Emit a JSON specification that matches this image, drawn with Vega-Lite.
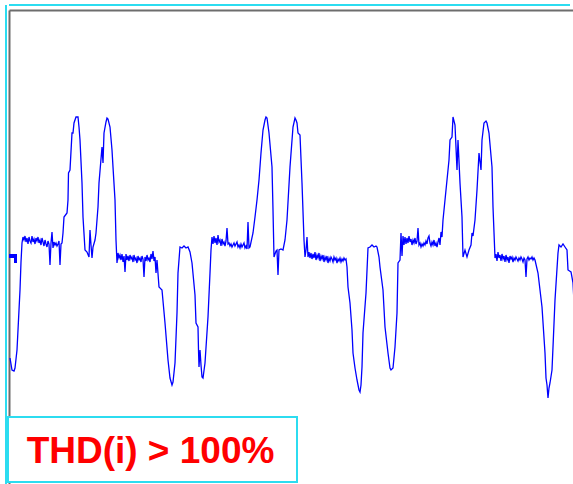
{
  "$schema": "https://vega.github.io/schema/vega-lite/v6.json",
  "width": 564,
  "height": 474,
  "autosize": "none",
  "padding": {"left": 9, "top": 10, "right": 0, "bottom": 0},
  "background": "white",
  "config": {
    "view": {"stroke": null},
    "axis": {"labels": false, "ticks": false, "grid": false, "title": null, "domainColor": "#6d6d6d", "domainWidth": 2}
  },
  "layer": [
    {
      "data": {"values": [{}]},
      "mark": {"type": "rule", "color": "#2cdcf0", "strokeWidth": 2, "xOffset": -3, "yOffset": -5},
      "encoding": {"x": {"datum": -1, "type": "quantitative"}}
    },
    {
      "data": {"values": [{}]},
      "mark": {"type": "rule", "color": "#2cdcf0", "strokeWidth": 2, "xOffset": -3, "yOffset": -5},
      "encoding": {"y": {"datum": 240, "type": "quantitative"}}
    },
    {
      "data": {"values": [
        {"n": -1, "n2": 7, "i": -4, "i2": -8},
        {"n": 4, "n2": 7, "i": -4, "i2": -13}
      ]},
      "mark": {"type": "rect", "color": "#0000ff"},
      "encoding": {
        "x": {"field": "n", "type": "quantitative"},
        "x2": {"field": "n2"},
        "y": {"field": "i", "type": "quantitative"},
        "y2": {"field": "i2"}
      }
    },
    {
      "data": {"values": [
        {"n":0,"i":-108},{"n":2,"i":-120},{"n":4,"i":-121},{"n":5,"i":-118},{"n":7,"i":-100},{"n":8,"i":-80},{"n":10,"i":-40},{"n":11,"i":-12},{"n":12,"i":7},
        {"n":13,"i":13},{"n":14,"i":10},{"n":15,"i":14},{"n":16,"i":8},{"n":17,"i":12},{"n":18,"i":6},{"n":19,"i":13},{"n":20,"i":9},{"n":21,"i":7},{"n":22,"i":14},
        {"n":23,"i":8},{"n":24,"i":11},{"n":25,"i":6},{"n":26,"i":12},{"n":27,"i":9},{"n":28,"i":13},{"n":29,"i":7},{"n":30,"i":10},{"n":31,"i":5},{"n":32,"i":12},
        {"n":33,"i":8},{"n":34,"i":4},{"n":35,"i":10},{"n":36,"i":6},{"n":37,"i":3},{"n":38,"i":9},{"n":39,"i":6},{"n":40,"i":-15},{"n":41,"i":7},{"n":42,"i":18},
        {"n":43,"i":2},{"n":44,"i":8},{"n":45,"i":5},{"n":46,"i":7},{"n":47,"i":4},{"n":48,"i":6},{"n":49,"i":9},{"n":50,"i":-15},{"n":51,"i":6},{"n":52,"i":7},
        {"n":53,"i":17},{"n":54,"i":33},{"n":57,"i":37},{"n":58,"i":50},{"n":58.5,"i":77},{"n":60,"i":80},{"n":62,"i":117},{"n":63,"i":117},{"n":64,"i":127},{"n":66,"i":133},
        {"n":68,"i":133},{"n":69,"i":123},{"n":70,"i":110},{"n":72,"i":67},{"n":73,"i":33},{"n":75,"i":0},{"n":77,"i":-2},{"n":79,"i":-7},{"n":80,"i":20},{"n":81,"i":5},
        {"n":82,"i":-8},{"n":83,"i":3},{"n":85,"i":10},{"n":86,"i":17},{"n":88,"i":43},{"n":89,"i":67},{"n":92,"i":103},{"n":93,"i":87},{"n":94,"i":117},{"n":96,"i":128},
        {"n":97,"i":132},{"n":98,"i":131},{"n":100,"i":123},{"n":102,"i":100},{"n":103,"i":83},{"n":105,"i":50},{"n":106,"i":10},{"n":107,"i":-13},
        {"n":108,"i":-3},{"n":109,"i":-8},{"n":110,"i":-5},{"n":111,"i":-10},{"n":112,"i":-4},{"n":113,"i":-12},{"n":114,"i":-6},{"n":115,"i":-22},{"n":116,"i":-4},{"n":117,"i":-10},
        {"n":118,"i":-6},{"n":119,"i":-11},{"n":120,"i":-5},{"n":121,"i":-9},{"n":122,"i":-7},{"n":123,"i":-12},{"n":124,"i":-5},{"n":125,"i":-10},{"n":126,"i":-8},{"n":127,"i":-13},
        {"n":128,"i":-6},{"n":129,"i":-10},{"n":130,"i":-8},{"n":131,"i":-12},{"n":132,"i":-6},{"n":133,"i":-9},{"n":134,"i":-27},{"n":135,"i":-7},{"n":136,"i":-11},{"n":137,"i":-5},
        {"n":138,"i":-10},{"n":139,"i":-8},{"n":140,"i":-12},{"n":141,"i":-4},{"n":142,"i":-9},{"n":143,"i":-1},{"n":144,"i":-11},{"n":145,"i":-7},{"n":146,"i":-23},{"n":147,"i":-10},
        {"n":149,"i":-37},{"n":152,"i":-40},{"n":155,"i":-73},{"n":158,"i":-110},{"n":160,"i":-128},{"n":162,"i":-135},{"n":163,"i":-132},{"n":165,"i":-113},{"n":167,"i":-63},{"n":168,"i":-23},
        {"n":170,"i":3},{"n":172,"i":2},{"n":174,"i":4},{"n":176,"i":2},{"n":178,"i":3},{"n":180,"i":-2},{"n":182,"i":-13},{"n":185,"i":-45},{"n":186,"i":-73},{"n":188,"i":-77},
        {"n":188.5,"i":-100},{"n":189,"i":-117},{"n":190,"i":-100},{"n":191,"i":-115},{"n":192,"i":-127},{"n":193,"i":-128},{"n":195,"i":-113},{"n":198,"i":-67},{"n":200,"i":-23},{"n":201,"i":0},
        {"n":202,"i":13},{"n":203,"i":6},{"n":204,"i":14},{"n":205,"i":7},{"n":206,"i":12},{"n":207,"i":5},{"n":208,"i":15},{"n":209,"i":8},{"n":210,"i":10},{"n":211,"i":4},
        {"n":212,"i":11},{"n":213,"i":6},{"n":214,"i":8},{"n":215,"i":4},{"n":216,"i":9},{"n":217,"i":22},{"n":218,"i":6},{"n":219,"i":7},{"n":220,"i":4},{"n":221,"i":6},
        {"n":222,"i":3},{"n":223,"i":5},{"n":224,"i":7},{"n":225,"i":4},{"n":226,"i":6},{"n":227,"i":8},{"n":228,"i":3},{"n":229,"i":5},{"n":230,"i":2},{"n":231,"i":6},
        {"n":232,"i":3},{"n":233,"i":5},{"n":234,"i":7},{"n":235,"i":2},{"n":236,"i":4},{"n":237,"i":1},{"n":238,"i":28},{"n":239,"i":2},{"n":240,"i":3},
        {"n":243,"i":17},{"n":245,"i":33},{"n":247,"i":50},{"n":249,"i":70},{"n":251,"i":97},{"n":253,"i":120},{"n":255,"i":130},{"n":256,"i":133},{"n":257,"i":132},{"n":259,"i":117},
        {"n":262,"i":83},{"n":263,"i":40},{"n":264,"i":-7},{"n":266,"i":-1},{"n":267,"i":0},{"n":268,"i":-25},{"n":269,"i":0},{"n":271,"i":1},{"n":273,"i":0},{"n":275,"i":10},
        {"n":277,"i":30},{"n":280,"i":83},{"n":283,"i":123},{"n":285,"i":132},{"n":286,"i":130},{"n":287,"i":127},{"n":288,"i":117},{"n":290,"i":115},{"n":292,"i":67},{"n":294,"i":10},{"n":295,"i":-7},
        {"n":296,"i":0},{"n":297,"i":13},{"n":298,"i":-7},{"n":299,"i":-2},{"n":300,"i":-8},{"n":301,"i":-3},{"n":302,"i":-9},{"n":303,"i":-4},{"n":304,"i":-8},{"n":305,"i":-2},
        {"n":306,"i":-10},{"n":307,"i":-5},{"n":308,"i":-8},{"n":309,"i":-3},{"n":310,"i":-11},{"n":311,"i":-6},{"n":312,"i":-9},{"n":313,"i":-5},{"n":314,"i":-12},{"n":315,"i":-7},
        {"n":316,"i":-10},{"n":317,"i":-6},{"n":318,"i":-13},{"n":319,"i":-8},{"n":320,"i":-11},{"n":321,"i":-7},{"n":322,"i":-9},{"n":323,"i":-12},{"n":324,"i":-7},{"n":325,"i":-10},
        {"n":326,"i":-8},{"n":327,"i":-13},{"n":328,"i":-9},{"n":329,"i":-11},{"n":330,"i":-8},{"n":331,"i":-12},{"n":332,"i":-9},{"n":333,"i":-11},{"n":334,"i":-8},{"n":335,"i":-10},
        {"n":336,"i":-9},{"n":337,"i":-17},
        {"n":338,"i":-37},{"n":340,"i":-53},{"n":342,"i":-80},{"n":343,"i":-103},{"n":345,"i":-118},{"n":347,"i":-130},{"n":349,"i":-140},{"n":350,"i":-142},{"n":351,"i":-135},{"n":352,"i":-117},
        {"n":353,"i":-83},{"n":356,"i":-43},{"n":358,"i":2},{"n":360,"i":3},{"n":362,"i":5},{"n":364,"i":3},{"n":366,"i":4},{"n":367,"i":3},{"n":369,"i":-7},{"n":370,"i":-17},
        {"n":373,"i":-40},{"n":375,"i":-77},{"n":378,"i":-103},{"n":380,"i":-118},{"n":381,"i":-120},{"n":383,"i":-118},{"n":385,"i":-97},{"n":387,"i":-63},{"n":388,"i":-13},
        {"n":390,"i":-10},{"n":391,"i":17},{"n":392,"i":-6},{"n":393,"i":14},{"n":394,"i":5},{"n":395,"i":13},{"n":396,"i":6},{"n":397,"i":12},{"n":398,"i":7},{"n":399,"i":14},
        {"n":400,"i":8},{"n":401,"i":11},{"n":402,"i":5},{"n":403,"i":10},{"n":404,"i":7},{"n":405,"i":12},{"n":406,"i":6},{"n":407,"i":9},{"n":408,"i":22},{"n":409,"i":5},
        {"n":410,"i":7},{"n":411,"i":3},{"n":412,"i":6},{"n":413,"i":4},{"n":414,"i":7},{"n":415,"i":5},{"n":416,"i":9},{"n":417,"i":6},{"n":418,"i":12},{"n":419,"i":14},
        {"n":420,"i":7},{"n":421,"i":4},{"n":422,"i":8},{"n":423,"i":5},{"n":424,"i":10},{"n":425,"i":4},{"n":426,"i":7},{"n":427,"i":3},{"n":428,"i":8},{"n":429,"i":12},
        {"n":430,"i":5},{"n":431,"i":18},{"n":432,"i":13},
        {"n":433,"i":30},{"n":436,"i":60},{"n":439,"i":90},{"n":440,"i":110},{"n":442,"i":113},{"n":442.5,"i":123},{"n":443,"i":133},{"n":445,"i":125},{"n":447,"i":80},{"n":448,"i":110},
        {"n":450,"i":67},{"n":452,"i":33},{"n":453,"i":-7},{"n":455,"i":0},{"n":457,"i":-7},{"n":459,"i":0},{"n":461,"i":5},{"n":462,"i":17},{"n":463,"i":14},{"n":465,"i":30},
        {"n":467,"i":60},{"n":469,"i":97},{"n":471,"i":80},{"n":472,"i":110},{"n":474,"i":127},{"n":476,"i":129},{"n":477,"i":127},{"n":479,"i":117},{"n":482,"i":83},{"n":483,"i":43},{"n":485,"i":-8},
        {"n":486,"i":-4},{"n":487,"i":-11},{"n":488,"i":-2},{"n":489,"i":-8},{"n":490,"i":-5},{"n":491,"i":-11},{"n":492,"i":-4},{"n":493,"i":-9},{"n":494,"i":-6},{"n":495,"i":-12},
        {"n":496,"i":-5},{"n":497,"i":-10},{"n":498,"i":-7},{"n":499,"i":-13},{"n":500,"i":-6},{"n":501,"i":-9},{"n":502,"i":-7},{"n":503,"i":-12},{"n":504,"i":-8},{"n":505,"i":-10},
        {"n":506,"i":-7},{"n":507,"i":-9},{"n":508,"i":-11},{"n":509,"i":-8},{"n":510,"i":-10},{"n":511,"i":-7},{"n":512,"i":-9},{"n":513,"i":-12},{"n":514,"i":-8},{"n":515,"i":-10},
        {"n":516,"i":-27},{"n":517,"i":-9},{"n":518,"i":-7},{"n":519,"i":-10},{"n":520,"i":-8},{"n":521,"i":-9},{"n":522,"i":-7},{"n":523,"i":-10},{"n":524,"i":-8},{"n":525,"i":-10},
        {"n":528,"i":-23},{"n":532,"i":-57},{"n":535,"i":-103},{"n":536,"i":-128},{"n":537,"i":-135},{"n":538,"i":-148},{"n":539,"i":-138},{"n":540,"i":-133},{"n":542,"i":-120},{"n":543,"i":-97},
        {"n":545,"i":-50},{"n":548,"i":-3},{"n":549,"i":5},{"n":551,"i":3},{"n":553,"i":6},{"n":555,"i":3},{"n":557,"i":0},{"n":558,"i":-20},{"n":561,"i":-22},{"n":563,"i":-33},{"n":565,"i":-70}
      ]},
      "mark": {"type": "line", "color": "#0000ff", "strokeWidth": 1.3, "clip": true},
      "encoding": {
        "x": {"field": "n", "type": "quantitative", "scale": {"domain": [-1, 563], "nice": false, "zero": false}, "axis": {"orient": "top"}},
        "y": {"field": "i", "type": "quantitative", "scale": {"domain": [-234, 240], "nice": false, "zero": false}, "axis": {"orient": "left"}},
        "order": {"value": null}
      }
    },
    {
      "data": {"values": [{"label": "THD(i) > 100%"}]},
      "mark": {"type": "rect", "fill": "white", "stroke": "#2cdcf0", "strokeWidth": 2},
      "encoding": {
        "x": {"datum": -2, "type": "quantitative"},
        "x2": {"datum": 287},
        "y": {"datum": -167, "type": "quantitative"},
        "y2": {"datum": -232}
      }
    },
    {
      "data": {"values": [{"label": "THD(i) > 100%"}]},
      "mark": {"type": "text", "color": "#ff0000", "font": "Liberation Sans", "fontWeight": "bold", "fontSize": 37, "align": "center", "baseline": "alphabetic"},
      "encoding": {
        "x": {"datum": 140.5, "type": "quantitative"},
        "y": {"datum": -213, "type": "quantitative"},
        "text": {"field": "label"}
      }
    }
  ]
}
